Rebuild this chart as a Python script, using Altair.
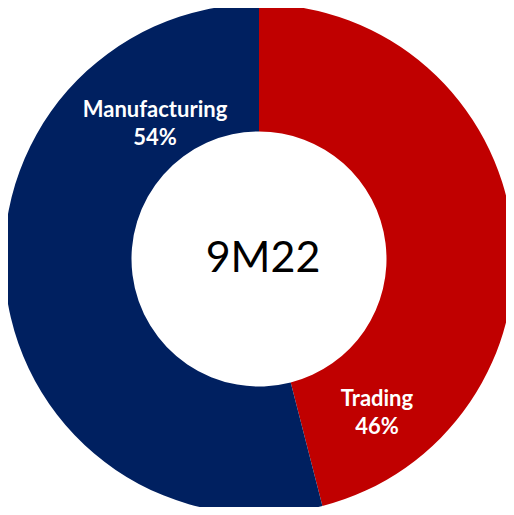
import altair as alt
import pandas as pd

segments = ["Trading", "Manufacturing"]
shares = [46, 54]
colors = ["#C00000", "#002060"]
pct_labels = ["46%", "54%"]
center_label = "9M22"

df = pd.DataFrame({
    "segment": segments,
    "share": shares,
    "order": list(range(len(segments))),
    "label": [f"{s}\n{p}" for s, p in zip(segments, pct_labels)],
})

W = 498
H = 499
CX = 251
CY = 251

base = alt.Chart(df)

arcs = base.mark_arc(outerRadius=255, innerRadius=127.5).encode(
    theta=alt.Theta("share:Q", stack=True),
    color=alt.Color("segment:N", scale=alt.Scale(domain=segments, range=colors), legend=None),
    order=alt.Order("order:Q"),
    x=alt.value(CX),
    y=alt.value(CY),
)

def seg_label(name, px, py):
    return base.transform_filter(alt.datum.segment == name).mark_text(
        font="Lato", fontWeight="bold", fontSize=22, color="white",
        lineBreak="\n", lineHeight=28, align="center", baseline="middle",
    ).encode(text="label:N", x=alt.value(px), y=alt.value(py))

lab_m = seg_label("Manufacturing", 147, 102)
lab_t = seg_label("Trading", 369, 391)

center = alt.Chart(pd.DataFrame({"t": [center_label]})).mark_text(
    font="Lato", fontSize=43, color="black", align="center", baseline="middle",
).encode(text="t:N", x=alt.value(CX + 4), y=alt.value(CY))

chart = alt.layer(arcs, lab_m, lab_t, center).properties(
    width=W, height=H, padding=0, autosize=alt.AutoSizeParams(type="none"),
).configure_view(stroke=None)

chart.save("out.html", embed_options={"renderer": "svg", "actions": False})
